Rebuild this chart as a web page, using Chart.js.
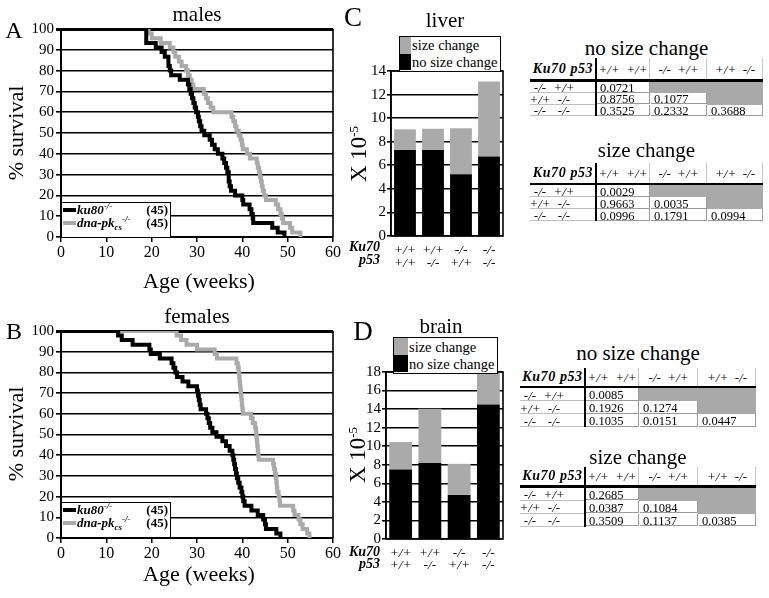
<!DOCTYPE html>
<html><head><meta charset="utf-8">
<title>Survival and mutation frequency</title>
<script src="https://cdn.jsdelivr.net/npm/chart.js@4.4.1/dist/chart.umd.min.js"></script>
<style>
html,body{margin:0;padding:0;background:#fff}
body{width:769px;height:598px;position:relative;overflow:hidden;font-family:"Liberation Serif","Times New Roman",serif;color:#000}
canvas{position:absolute}
.t{position:absolute;white-space:nowrap;line-height:1;transform:translate(-50%,-50%)}
.rot{transform:translate(-50%,-50%) rotate(-90deg)}
.lg{position:absolute;background:#fff;border:1.5px solid #000;box-sizing:border-box}
.abs{position:absolute;white-space:nowrap;line-height:1}
.bi{font-weight:bold;font-style:italic}
.it{font-style:italic}
.sup{font-size:9px;position:relative;top:-5px}
.sub{font-size:9px;position:relative;top:3px}
</style></head>
<body>
<canvas id="cA" width="350" height="290" style="left:0;top:0"></canvas>
<canvas id="cB" width="350" height="308" style="left:0;top:290px"></canvas>
<canvas id="cC" width="180" height="290" style="left:330px;top:0"></canvas>
<canvas id="cD" width="180" height="308" style="left:330px;top:290px"></canvas>
<div id="overlay"></div>
<script>
// ---------- survival data (weeks of death, % surviving after) ----------
const maleKu80Weeks = [18.8, 20.9, 22.2, 22.9, 23.7, 24.0, 24.3, 26.2, 28.0, 28.3, 28.6, 28.9, 29.2, 29.5, 29.8, 30.2, 30.4, 30.7, 31.0, 31.6, 32.8, 33.3, 33.9, 34.6, 35.6, 36.0, 36.4, 36.7, 37.0, 37.2, 37.5, 38.4, 40.0, 40.2, 41.6, 42.0, 42.3, 42.4, 46.6, 47.8, 49.3];
const maleKu80Surv  = [93.3, 91.1, 88.9, 86.7, 82.2, 80.0, 77.8, 75.6, 73.3, 71.1, 68.9, 66.7, 64.4, 62.2, 60.0, 57.8, 55.6, 53.3, 51.1, 48.9, 46.7, 44.4, 42.2, 40.0, 37.8, 35.6, 33.3, 31.1, 26.7, 24.4, 22.2, 20.0, 17.8, 15.6, 13.3, 11.1, 8.9, 6.7, 4.4, 2.2, 0];
const maleDnapkWeeks = [19.3, 20.0, 22.0, 24.0, 24.8, 25.2, 26.0, 26.6, 27.6, 28.0, 28.4, 28.8, 29.2, 31.5, 32.0, 32.4, 33.0, 33.6, 37.6, 38.0, 38.4, 38.7, 39.2, 39.6, 39.9, 40.1, 41.0, 41.7, 43.2, 43.4, 43.7, 43.9, 44.1, 44.3, 44.5, 44.8, 45.2, 47.4, 47.9, 48.4, 48.7, 49.0, 50.5, 51.0, 52.8];
const maleDnapkSurv  = [97.8, 95.6, 93.3, 91.1, 88.9, 86.7, 84.4, 82.2, 80.0, 77.8, 75.6, 73.3, 71.1, 68.9, 66.7, 64.4, 62.2, 60.0, 57.8, 55.6, 53.3, 51.1, 48.9, 46.7, 44.4, 42.2, 40.0, 37.8, 35.6, 33.3, 31.1, 28.9, 26.7, 24.4, 22.2, 20.0, 17.8, 15.6, 13.3, 11.1, 8.9, 6.7, 4.4, 2.2, 0];
const femaleKu80Weeks = [12.6, 13.4, 15.8, 19.5, 19.8, 21.8, 24.4, 24.8, 25.2, 25.6, 26.8, 28.1, 30.0, 30.2, 30.4, 30.6, 30.8, 32.0, 32.3, 32.6, 32.9, 33.4, 34.3, 35.6, 36.4, 37.2, 37.8, 38.0, 38.2, 38.4, 38.6, 38.8, 39.1, 39.4, 39.8, 40.0, 40.2, 40.5, 42.0, 43.4, 44.6, 45.0, 45.2, 47.5, 48.4];
const femaleKu80Surv  = [97.8, 95.6, 93.3, 91.1, 88.9, 86.7, 84.4, 82.2, 80.0, 77.8, 75.6, 73.3, 71.1, 68.9, 66.7, 64.4, 62.2, 60.0, 57.8, 55.6, 53.3, 51.1, 48.9, 46.7, 44.4, 42.2, 40.0, 37.8, 35.6, 33.3, 31.1, 28.9, 26.7, 24.4, 22.2, 20.0, 17.8, 15.6, 13.3, 11.1, 8.9, 6.7, 4.4, 2.2, 0];
const femaleDnapkWeeks = [25.5, 26.5, 27.7, 30.0, 33.9, 34.4, 38.7, 39.0, 39.2, 39.3, 39.4, 39.5, 39.6, 39.7, 39.8, 39.9, 40.0, 40.1, 41.9, 42.3, 42.8, 43.0, 43.1, 43.2, 43.3, 43.4, 43.5, 43.6, 46.8, 47.0, 47.2, 47.4, 47.5, 47.6, 47.7, 48.0, 48.2, 48.3, 51.2, 51.5, 52.4, 52.8, 53.3, 54.3, 54.8];
const femaleDnapkSurv  = [97.8, 95.6, 93.3, 91.1, 88.9, 86.7, 84.4, 82.2, 80.0, 77.8, 75.6, 73.3, 71.1, 68.9, 66.7, 64.4, 62.2, 60.0, 57.8, 55.6, 53.3, 51.1, 48.9, 46.7, 44.4, 42.2, 40.0, 37.8, 35.6, 33.3, 31.1, 28.9, 26.7, 24.4, 22.2, 20.0, 17.8, 15.6, 13.3, 11.1, 8.9, 6.7, 4.4, 2.2, 0];

// ---------- bar data (X 10^-5) ----------
const genotypeKu70 = ['+/+', '+/+', '-/-', '-/-'];
const genotypeP53  = ['+/+', '-/-', '+/+', '-/-'];
const liverNoSizeChange = [7.3, 7.3, 5.25, 6.75];
const liverSizeChange   = [1.75, 1.8, 3.9, 6.35];
const brainNoSizeChange = [7.5, 8.2, 4.75, 14.5];
const brainSizeChange   = [2.95, 5.85, 3.35, 3.5];

// ---------- p-value tables ----------
const tableColGenotypes = ['+/+  +/+', '-/-  +/+', '+/+  -/-'];
const tableRowGenotypes = [['-/-', '+/+'], ['+/+', '-/-'], ['-/-', '-/-']];
const liverNoSizeP = [[0.0721], [0.8756, 0.1077], [0.3525, 0.2332, 0.3688]];
const liverSizeP   = [[0.0029], [0.9663, 0.0035], [0.0996, 0.1791, 0.0994]];
const brainNoSizeP = [[0.0085], [0.1926, 0.1274], [0.1035, 0.0151, 0.0447]];
const brainSizeP   = [[0.2685], [0.0387, 0.1084], [0.3509, 0.1137, 0.0385]];

const BLACK = '#000000', GREY = '#aaaaaa';
const SERIF = '"Liberation Serif", "Times New Roman", serif';

const framePlugin = {
  id: 'frame',
  afterDatasetsDraw(chart, args, opts) {
    const a = chart.chartArea, ctx = chart.ctx;
    ctx.save();
    ctx.strokeStyle = '#000';
    ctx.lineWidth = opts.width || 1.5;
    ctx.beginPath();
    if (opts.full) ctx.rect(a.left, a.top, a.right - a.left, a.bottom - a.top);
    else { ctx.moveTo(a.right, a.top); ctx.lineTo(a.right, a.bottom); }
    ctx.stroke();
    ctx.restore();
  }
};

function steps(weeks, surv) {
  return [{x: 0, y: 100}].concat(weeks.map((w, i) => ({x: w, y: surv[i]})));
}

function survivalChart(id, padTop, xH, ku80W, ku80S, pkW, pkS) {
  return new Chart(document.getElementById(id), {
    type: 'line',
    data: {
      datasets: [
        {label: 'ku80-/-', data: steps(ku80W, ku80S), borderColor: BLACK, borderWidth: 4, pointRadius: 0, stepped: 'before', fill: false, borderCapStyle: 'butt', borderJoinStyle: 'miter'},
        {label: 'dna-pkcs-/-', data: steps(pkW, pkS), borderColor: GREY, borderWidth: 4, pointRadius: 0, stepped: 'before', fill: false, borderCapStyle: 'butt', borderJoinStyle: 'miter'}
      ]
    },
    options: {
      responsive: false, animation: false, events: [],
      layout: {padding: {left: 0, top: padTop, right: 17, bottom: 0}},
      plugins: {legend: {display: false}, tooltip: {enabled: false}, frame: {full: false, width: 1.6}},
      scales: {
        x: {
          type: 'linear', min: 0, max: 60,
          ticks: {stepSize: 10, color: '#000', font: {family: SERIF, size: 16}, padding: 1, maxRotation: 0, autoSkip: false},
          grid: {drawOnChartArea: false, color: '#000', tickLength: 5, lineWidth: 1.5},
          border: {color: '#000', width: 2},
          afterFit: s => { s.height = xH; }
        },
        y: {
          min: 0, max: 100,
          ticks: {stepSize: 10, color: '#000', font: {family: SERIF, size: 15}, padding: 2, autoSkip: false},
          grid: {color: '#000', tickLength: 5, lineWidth: c => (c.tick && c.tick.value === 100) ? 3 : 1.6},
          border: {color: '#000', width: 2},
          afterFit: s => { s.width = 61; }
        }
      }
    },
    plugins: [framePlugin]
  });
}

function barChart(id, yW, padTop, xH, yMax, black, grey, lh) {
  return new Chart(document.getElementById(id), {
    type: 'bar',
    data: {
      labels: genotypeKu70.map((k, i) => [k, genotypeP53[i]]),
      datasets: [
        {label: 'no size change', data: black, backgroundColor: BLACK, stack: 's', barPercentage: 0.78, categoryPercentage: 1},
        {label: 'size change', data: grey, backgroundColor: GREY, stack: 's', barPercentage: 0.78, categoryPercentage: 1}
      ]
    },
    options: {
      responsive: false, animation: false, events: [],
      layout: {padding: {left: 0, top: padTop, right: 7, bottom: 0}},
      plugins: {legend: {display: false}, tooltip: {enabled: false}, frame: {full: true, width: 1.6}},
      scales: {
        x: {
          stacked: true,
          ticks: {color: '#000', font: {family: SERIF, size: 13.5, style: 'italic', lineHeight: lh}, padding: 0, maxRotation: 0, autoSkip: false},
          grid: {display: false},
          border: {display: false},
          afterFit: s => { s.height = xH; }
        },
        y: {
          stacked: true, min: 0, max: yMax,
          ticks: {stepSize: 2, color: '#000', font: {family: SERIF, size: 15}, padding: 1, autoSkip: false},
          grid: {color: '#000', lineWidth: 1.6, tickLength: 4},
          border: {color: '#000', width: 1.6},
          afterFit: s => { s.width = yW; }
        }
      }
    },
    plugins: [framePlugin]
  });
}

survivalChart('cA', 29, 53, maleKu80Weeks, maleKu80Surv, maleDnapkWeeks, maleDnapkSurv);
survivalChart('cB', 41, 60, femaleKu80Weeks, femaleKu80Surv, femaleDnapkWeeks, femaleDnapkSurv);
barChart('cC', 61, 71, 54, 14, liverNoSizeChange, liverSizeChange, 0.96);
barChart('cD', 56, 82, 59, 18, brainNoSizeChange, brainSizeChange, 0.9);

// ---------- overlay text ----------
const ov = document.getElementById('overlay');
function txt(html, x, y, style, cls) {
  const d = document.createElement('div');
  d.className = cls || 't';
  d.style.left = x + 'px'; d.style.top = y + 'px';
  if (style) d.style.cssText += style;
  d.innerHTML = html;
  ov.appendChild(d);
  return d;
}
function box(x, y, w, h, bg, extra) {
  const d = document.createElement('div');
  d.style.cssText = 'position:absolute;left:' + x + 'px;top:' + y + 'px;width:' + w + 'px;height:' + h + 'px;background:' + bg + ';' + (extra || '');
  ov.appendChild(d);
  return d;
}

// panel letters and titles
txt('A', 14, 30, 'font-size:24px');
txt('B', 14, 331, 'font-size:24px');
txt('C', 353, 17, 'font-size:27px');
txt('D', 363, 331, 'font-size:27px');
txt('males', 197, 14, 'font-size:21px');
txt('females', 197, 316, 'font-size:21px');
txt('liver', 445, 20, 'font-size:21px');
txt('brain', 441, 326, 'font-size:21px');
// axis titles
txt('% survival', 16, 133, 'font-size:22px', 't rot');
txt('% survival', 16, 434, 'font-size:22px', 't rot');
txt('Age (weeks)', 199, 281, 'font-size:22px');
txt('Age (weeks)', 199, 574, 'font-size:22px');
txt('X 10<span style="font-size:13px;position:relative;top:-8px">-5</span>', 358, 154, 'font-size:23px', 't rot');
txt('X 10<span style="font-size:13px;position:relative;top:-8px">-5</span>', 357, 455, 'font-size:23px', 't rot');
// genotype row names under bars
[[247, 260], [552, 564]].forEach(p => {
  txt('Ku70', 380, p[0], 'font-size:14px;transform:translate(-100%,-50%)', 't bi');
  txt('p53', 380, p[1], 'font-size:14px;transform:translate(-100%,-50%)', 't bi');
});

// survival legends
function survLegend(top) {
  const lg = document.createElement('div');
  lg.className = 'lg';
  lg.style.cssText += 'left:61px;top:' + top + 'px;width:110px;height:' + 35 + 'px;border-bottom:none';
  ov.appendChild(lg);
  const rows = [
    {c: BLACK, name: 'ku80<span class="sup">-/-</span>', n: '(45)'},
    {c: GREY, name: 'dna-pk<span class="sub">cs</span><span class="sup">-/-</span>', n: '(45)'}
  ];
  rows.forEach((r, i) => {
    const yc = 7 + i * 12.5;
    const s = document.createElement('div');
    s.style.cssText = 'position:absolute;left:1px;width:13px;height:4px;top:' + (yc - 2) + 'px;background:' + r.c;
    lg.appendChild(s);
    const t = document.createElement('div');
    t.className = 'abs bi';
    t.style.cssText += 'left:15px;top:' + (yc - 7) + 'px;font-size:13px';
    t.innerHTML = r.name;
    lg.appendChild(t);
    const n = document.createElement('div');
    n.className = 'abs';
    n.style.cssText += 'right:2px;top:' + (yc - 7) + 'px;font-size:13px;font-weight:bold';
    n.innerHTML = r.n;
    lg.appendChild(n);
  });
}
survLegend(202);
survLegend(502);

// bar legends
function barLegend(x, y, w, h, sq) {
  const lg = document.createElement('div');
  lg.className = 'lg';
  lg.style.cssText += 'left:' + x + 'px;top:' + y + 'px;width:' + w + 'px;height:' + h + 'px';
  ov.appendChild(lg);
  [['size change', GREY], ['no size change', BLACK]].forEach((r, i) => {
    const hh = (h - 3) / 2;
    const s = document.createElement('div');
    s.style.cssText = 'position:absolute;left:0;top:' + (i * hh) + 'px;width:' + sq + 'px;height:' + (hh) + 'px;background:' + r[1];
    lg.appendChild(s);
    const t = document.createElement('div');
    t.className = 'abs';
    t.style.cssText += 'left:' + (sq + 1) + 'px;top:' + (i * hh + hh / 2 - 7) + 'px;font-size:14.5px';
    t.textContent = r[0];
    lg.appendChild(t);
  });
}
barLegend(399, 36, 102, 36, 11);
barLegend(393, 337, 105, 37, 14);

// p-value tables
function pTable(cfg) {
  const W = cfg.colW.reduce((a, b) => a + b, 0);
  const L = cfg.left, T = cfg.top;
  txt(cfg.title, L + W / 2, cfg.titleY, 'font-size:21px');
  const xs = [L];
  cfg.colW.forEach(w => xs.push(xs[xs.length - 1] + w));
  // header
  txt('Ku70 p53', L + cfg.colW[0] / 2, T + cfg.headH / 2, 'font-size:14px;letter-spacing:0.6px', 't bi');
  tableColGenotypes.forEach((g, j) => {
    txt(g, (xs[j + 1] + xs[j + 2]) / 2, T + cfg.headH / 2, 'font-size:13px;white-space:pre', 't it');
    box(xs[j + 2] - 1, T, 1, cfg.headH, '#c8c8c8');
  });
  const yRows = T + cfg.headH + 2.5;
  const H = yRows + 3 * cfg.rowH - T;
  box(L, T + cfg.headH, W, 2.5, '#000');
  box(xs[1] - 1, T, 2, H, '#000');
  cfg.vals.forEach((row, r) => {
    const y = yRows + r * cfg.rowH;
    txt(tableRowGenotypes[r][0], L + 10, y + cfg.rowH / 2, 'font-size:13px', 't it');
    txt(tableRowGenotypes[r][1], L + 34, y + cfg.rowH / 2, 'font-size:13px', 't it');
    box(L, y + cfg.rowH - 1, cfg.colW[0] - 1, 1, '#c0c0c0');
    for (let c = 0; c < 3; c++) {
      const x0 = xs[c + 1] + 1, x1 = xs[c + 2];
      if (c < row.length) {
        box(x0, y, x1 - x0 - 1.5, cfg.rowH - 1.5, '#fff', 'border-right:1.5px solid #9a9a9a;border-bottom:1.5px solid #9a9a9a');
        txt(row[c].toFixed(4), x0 + 3, y + cfg.rowH / 2 + 0.5, 'font-size:12.5px;transform:translate(0,-50%)');
      } else {
        box(x0 - 1, y, x1 - x0 + 1, cfg.rowH, '#a9a9a9');
      }
    }
  });
}
pTable({left: 530, top: 58, colW: [66, 54, 57, 56], headH: 21, rowH: 11.5, title: 'no size change', titleY: 48, vals: liverNoSizeP});
pTable({left: 530, top: 163, colW: [66, 54, 57, 56], headH: 19.5, rowH: 12, title: 'size change', titleY: 150, vals: liverSizeP});
pTable({left: 520, top: 368, colW: [65, 54, 59, 58], headH: 17.5, rowH: 13, title: 'no size change', titleY: 353, vals: brainNoSizeP});
pTable({left: 520, top: 467, colW: [65, 54, 59, 58], headH: 18, rowH: 13, title: 'size change', titleY: 456.5, vals: brainSizeP});
</script>
</body></html>
